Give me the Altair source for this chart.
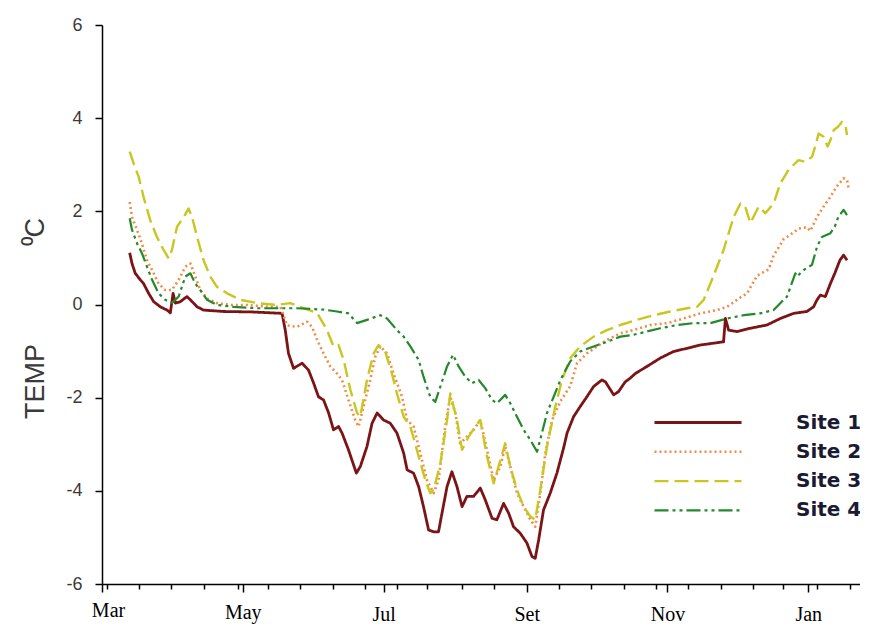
import altair as alt
import pandas as pd

sites = ["Site 1", "Site 2", "Site 3", "Site 4"]

# day offsets from 1 March, temperature (deg C)
site1_days = [12.0, 13.0, 14.4, 16.6, 18.0, 20.2, 22.4, 25.3, 28.2, 29.6, 30.8, 31.8, 33.9, 36.8, 38.3,
              41.2, 44.0, 52.7, 65.0, 78.0, 79.4, 80.8, 83.0, 86.7, 89.5, 91.7, 93.8, 96.0, 98.2,
              100.3, 102.5, 104.0, 106.8, 110.2, 111.9, 114.8, 117.0, 119.2, 122.0, 124.9, 127.8,
              130.7, 132.2, 135.0, 137.2, 139.3, 141.5, 143.7, 145.8, 147.3, 149.5, 151.6, 153.8,
              156.0, 158.1, 161.0, 163.9, 166.1, 169.0, 171.1, 174.0, 176.2, 178.3, 181.2, 184.1,
              186.3, 187.7, 189.2, 191.3, 194.2, 197.1, 200.0, 201.5, 204.3, 207.2, 210.1, 213.0,
              216.6, 218.1, 221.7, 223.8, 226.7, 228.9, 231.1, 236.1, 241.9, 247.6, 253.5, 259.2,
              265.0, 269.3, 270.1, 271.5, 275.1, 280.9, 288.1, 293.9, 299.7, 305.4, 308.3, 309.8,
              311.2, 313.4, 315.6, 317.5, 319.7, 321.3, 322.8]
site1_temp = [1.11, 0.88, 0.67, 0.53, 0.45, 0.24, 0.06, -0.05, -0.12, -0.18, 0.24, 0.03, 0.06, 0.17, 0.10,
              -0.05, -0.12, -0.15, -0.16, -0.19, -0.55, -1.05, -1.37, -1.26, -1.41, -1.69, -1.98, -2.05, -2.33,
              -2.69, -2.62, -2.76, -3.12, -3.62, -3.48, -3.05, -2.55, -2.33, -2.48, -2.55, -2.76,
              -3.19, -3.55, -3.62, -3.91, -4.34, -4.84, -4.88, -4.88, -4.48, -3.91, -3.59, -3.91,
              -4.34, -4.12, -4.12, -3.94, -4.20, -4.59, -4.62, -4.27, -4.48, -4.77, -4.91, -5.12,
              -5.41, -5.45, -5.05, -4.41, -4.05, -3.62, -3.08, -2.76, -2.41, -2.19, -1.98, -1.76,
              -1.62, -1.66, -1.94, -1.87, -1.66, -1.58, -1.48, -1.33, -1.15, -1.01, -0.94, -0.87,
              -0.83, -0.80, -0.30, -0.55, -0.58, -0.51, -0.44, -0.30, -0.19, -0.15, -0.05, 0.10,
              0.20, 0.17, 0.45, 0.67, 0.95, 1.06, 0.95]

site2_days = [12.0, 13.0, 15.2, 17.3, 19.5, 21.7, 24.5, 27.4, 30.3, 33.2, 36.1, 38.3, 40.4, 42.6, 45.5,
              49.8, 55.6, 62.8, 72.9, 77.3, 80.2, 84.5, 88.8, 91.0, 93.2, 96.0, 98.9, 101.8, 104.0,
              106.8, 109.7, 111.2, 113.3, 116.2, 118.4, 120.6, 123.5, 126.3, 130.0, 132.2, 135.0,
              137.9, 140.8, 143.7, 145.8, 148.7, 150.9, 153.1, 155.2, 158.1, 161.0, 163.9, 166.8,
              169.7, 172.6, 174.7, 176.9, 179.8, 182.7, 185.6, 187.7, 189.9, 192.1, 195.0, 198.6,
              202.9, 205.8, 210.1, 214.5, 218.8, 224.6, 230.3, 237.6, 244.8, 252.0, 259.2, 266.5,
              270.8, 276.6, 279.5, 283.8, 288.8, 291.0, 295.3, 296.8, 299.7, 301.8, 305.4, 306.9,
              309.8, 312.6, 315.6, 318.3, 321.3, 322.8, 323.5]
site2_temp = [2.20, 1.88, 1.60, 1.31, 0.95, 0.74, 0.45, 0.31, 0.31, 0.53, 0.81, 0.88, 0.60, 0.31, 0.13,
              0.03, -0.01, -0.01, -0.05, -0.05, -0.45, -0.48, -0.37, -0.48, -0.76, -1.05, -1.33, -1.48, -1.62,
              -2.05, -2.48, -2.62, -2.19, -1.62, -1.12, -0.90, -1.05, -1.48, -1.98, -2.48, -2.62,
              -3.19, -3.77, -4.05, -3.77, -2.62, -1.98, -2.33, -2.98, -2.84, -2.69, -2.48, -3.12,
              -3.77, -3.48, -3.05, -3.48, -4.05, -4.34, -4.62, -4.77, -4.05, -3.19, -2.48, -2.08,
              -1.75, -1.26, -1.05, -0.90, -0.76, -0.62, -0.55, -0.44, -0.40, -0.30, -0.19, -0.12,
              -0.05, 0.15, 0.24, 0.62, 0.75, 1.05, 1.40, 1.45, 1.55, 1.63, 1.66, 1.58,
              1.88, 2.10, 2.31, 2.53, 2.71, 2.67, 2.49]

site3_days = [12.0, 13.7, 15.9, 18.0, 20.9, 23.8, 26.7, 28.9, 30.3, 32.5, 35.4, 37.5, 39.0, 41.2, 44.0,
              46.9, 49.8, 54.2, 59.9, 67.2, 75.8, 81.6, 87.3, 93.2, 97.5, 100.3, 102.5, 104.7, 107.6,
              110.5, 111.9, 114.8, 117.7, 119.8, 122.7, 125.6, 127.8, 130.7, 133.6, 137.2, 140.1,
              142.2, 143.7, 146.6, 149.5, 150.9, 153.8, 156.0, 158.8, 161.7, 163.9, 166.8, 169.7,
              172.6, 174.7, 176.9, 179.8, 182.7, 185.6, 187.7, 189.9, 192.8, 196.4, 199.3, 202.9,
              207.2, 213.0, 218.8, 224.6, 231.8, 239.0, 246.2, 253.5, 257.8, 260.7, 263.6, 266.5,
              269.3, 271.5, 273.7, 276.6, 278.7, 280.9, 284.5, 287.4, 291.0, 293.9, 297.5, 299.7,
              301.8, 304.7, 307.6, 309.0, 310.5, 312.6, 314.4, 315.6, 317.0, 319.0, 320.6, 322.1, 322.8]
site3_temp = [3.28, 3.03, 2.74, 2.31, 1.81, 1.45, 1.17, 0.99, 1.17, 1.67, 1.88, 2.06, 1.88, 1.45, 0.95,
              0.60, 0.38, 0.24, 0.10, 0.03, -0.01, 0.03, -0.08, -0.18, -0.55, -0.90, -0.87, -1.19, -1.83,
              -2.33, -2.41, -1.62, -1.05, -0.87, -1.01, -1.48, -1.91, -2.41, -2.62, -3.26, -3.77,
              -4.05, -3.98, -3.41, -2.48, -1.91, -2.48, -3.12, -2.84, -2.62, -2.48, -3.26, -3.84,
              -3.34, -2.98, -3.48, -3.98, -4.34, -4.55, -4.62, -3.98, -3.05, -2.19, -1.62, -1.15,
              -0.90, -0.69, -0.55, -0.44, -0.33, -0.23, -0.15, -0.08, -0.05, 0.10, 0.45, 0.81,
              1.17, 1.53, 1.88, 2.17, 2.10, 1.75, 2.10, 1.96, 2.17, 2.60, 2.89, 3.00,
              3.10, 3.06, 3.17, 3.39, 3.67, 3.60, 3.39, 3.53, 3.74, 3.82, 3.92, 3.85, 3.64]

site4_days = [12.0, 13.0, 15.2, 17.3, 19.5, 21.7, 24.5, 27.4, 30.3, 33.2, 36.1, 38.3, 40.4, 42.6, 45.5,
              49.8, 57.0, 67.2, 84.5, 96.0, 101.8, 106.8, 110.5, 114.8, 120.6, 123.5, 127.8, 130.7,
              133.6, 137.2, 139.3, 142.2, 144.4, 146.6, 149.5, 152.1, 154.5, 157.4, 160.3, 163.2,
              166.1, 169.0, 171.1, 174.7, 176.9, 179.8, 182.7, 185.6, 188.5, 190.6, 192.8, 195.7,
              198.6, 202.9, 207.2, 213.0, 218.8, 224.6, 230.3, 236.1, 241.9, 249.1, 256.3, 263.6,
              270.8, 278.0, 285.2, 291.0, 295.3, 296.8, 300.4, 301.1, 304.0, 307.6, 309.8, 311.9,
              315.6, 317.5, 319.0, 321.3, 322.8]
site4_temp = [1.85, 1.60, 1.31, 1.10, 0.81, 0.53, 0.24, 0.10, 0.03, 0.17, 0.60, 0.67, 0.45, 0.31, 0.10,
              -0.01, -0.05, -0.08, -0.08, -0.11, -0.15, -0.19, -0.40, -0.33, -0.23, -0.30, -0.55, -0.69,
              -0.90, -1.19, -1.55, -1.98, -2.09, -1.76, -1.33, -1.08, -1.33, -1.55, -1.69, -1.62,
              -1.80, -2.05, -2.12, -1.94, -2.12, -2.41, -2.69, -2.91, -3.16, -2.76, -2.33, -1.98,
              -1.62, -1.22, -1.01, -0.90, -0.80, -0.69, -0.65, -0.58, -0.51, -0.44, -0.40, -0.40,
              -0.30, -0.23, -0.19, -0.12, 0.10, 0.17, 0.67, 0.60, 0.74, 0.85, 1.24, 1.45,
              1.53, 1.67, 1.88, 2.03, 1.92]

# axis ticks
month_labels = ["Mar", "May", "Jul", "Set", "Nov", "Jan"]
major_dates = ["2012-03-01", "2012-05-01", "2012-07-01", "2012-09-01", "2012-11-01", "2013-01-01"]
minor_tick_days = [2, 16, 30, 44, 59, 72, 86, 100, 114, 128, 141, 156, 170, 198, 212, 226,
                   240, 254, 268, 282, 295, 310, 324]
y_ticks = [-6, -4, -2, 0, 2, 4, 6]

colors = ["#7B1416", "#F08C46", "#C9C620", "#23892A"]
dashes = [[1, 0], [2, 3], [14, 6], [14, 4, 3, 4, 3, 4]]
widths = [2.8, 2.2, 3.0, 2.6]

start = pd.Timestamp("2012-03-01")
frames = []
for name, days, temps in [("Site 1", site1_days, site1_temp), ("Site 2", site2_days, site2_temp),
                          ("Site 3", site3_days, site3_temp), ("Site 4", site4_days, site4_temp)]:
    d = start + pd.to_timedelta(pd.Series(days, dtype=float), unit="D")
    frames.append(pd.DataFrame({"site": name, "date": d.dt.strftime("%Y-%m-%dT%H:%M:%S"), "temp": temps}))
df = pd.concat(frames, ignore_index=True)


def dt(ts):
    return alt.DateTime(year=ts.year, month=ts.month, date=ts.day, hours=ts.hour)


tick_ts = [pd.Timestamp(s) for s in major_dates] + [start + pd.Timedelta(days=k) for k in minor_tick_days]
tick_ts = sorted(set(tick_ts))
tick_values = [dt(t) for t in tick_ts]

label_expr = "date(datum.value) != 1 ? '' : "
for ds, lab in zip(major_dates, month_labels):
    m = pd.Timestamp(ds).month - 1
    label_expr += f"month(datum.value) == {m} ? '{lab}' : "
label_expr += "''"

pad_expr = ("month(datum.value) == 2 ? 8 : month(datum.value) == 4 ? 10 : 12")

x_axis = alt.Axis(
    values=tick_values, labelExpr=label_expr, title=None, grid=False,
    tickSize={"expr": "date(datum.value) == 1 ? 8 : 5"},
    labelPadding={"expr": pad_expr},
    labelOffset={"expr": "month(datum.value) == 2 && date(datum.value) == 1 ? 6 : 0"},
    labelFont="Liberation Serif", labelFontSize=20, labelColor="black",
    labelBaseline="top", labelFlush=False, labelOverlap=False,
    domainColor="black", domainWidth=1.5, tickColor="black", tickWidth=1.5,
)

y_axis = alt.Axis(
    values=y_ticks, labelExpr="'' + datum.value", grid=False,
    title="TEMP" + "\u00a0" * 13 + "\u2070C",
    tickSize=7, labelPadding=13, labelFont="Liberation Sans", labelFontSize=18, labelColor="#3a3a3a",
    domainColor="black", domainWidth=1.5, tickColor="black", tickWidth=1.5,
    titleFont="Liberation Sans", titleFontSize=27, titleFontWeight="normal", titleColor="#3a3a3a",
    titlePadding=16, titleY=293,
)

legend = alt.Legend(
    title=None, orient="none", legendX=551, legendY=384, symbolType="stroke",
    symbolSize=7569, symbolStrokeWidth=2.6, labelFont="DejaVu Sans", labelFontSize=20,
    labelFontWeight="bold", labelColor="#1a1a33", labelOffset=53, rowPadding=2.3,
    clipHeight=27, padding=0,
)

chart = alt.Chart(df).mark_line(strokeJoin="round").encode(
    x=alt.X("date:T", axis=x_axis,
            scale=alt.Scale(domain=[alt.DateTime(year=2012, month=3, date=1),
                                    alt.DateTime(year=2013, month=1, date=23, hours=10)])),
    y=alt.Y("temp:Q", axis=y_axis, scale=alt.Scale(domain=[-6, 6], nice=False, zero=False)),
    color=alt.Color("site:N", scale=alt.Scale(domain=sites, range=colors), legend=legend),
    strokeDash=alt.StrokeDash("site:N", scale=alt.Scale(domain=sites, range=dashes), legend=legend),
    strokeWidth=alt.StrokeWidth("site:N", scale=alt.Scale(domain=sites, range=widths), legend=None),
    order=alt.Order("date:T"),
).properties(
    width=758, height=559,
    padding={"left": 94, "top": 17, "right": 0, "bottom": 42},
    autosize=alt.AutoSizeParams(type="none"),
).configure_view(stroke=None)

chart.save("out.html", embed_options={"renderer": "svg", "actions": False})
